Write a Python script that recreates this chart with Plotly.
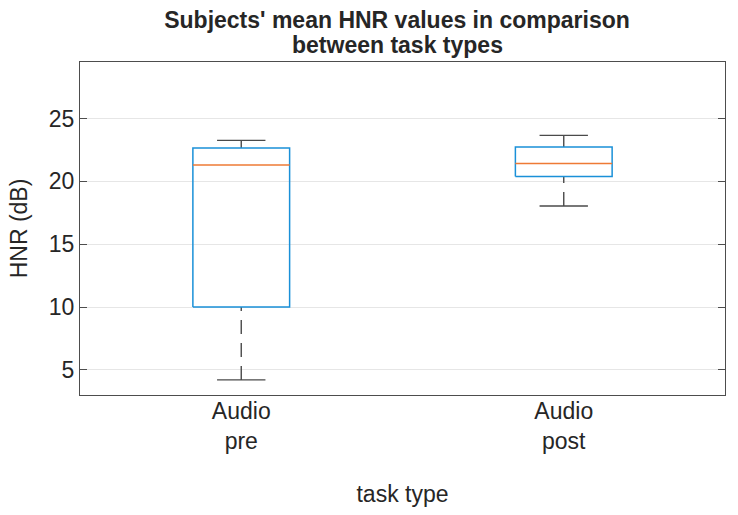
import plotly.graph_objects as go

categories = ["Audio<br>pre", "Audio<br>post"]
positions = [1, 2]
lower_whisker = [4.2, 18.04]
q1 = [10.0, 20.38]
median = [21.3, 21.42]
q3 = [22.65, 22.74]
upper_whisker = [23.26, 23.66]
y_ticks = [5, 10, 15, 20, 25]
title_lines = ["Subjects' mean HNR values in comparison", "between task types"]

BOX_HALF = 0.15
CAP_HALF = 0.075
FONT = "Liberation Sans, Arial, Helvetica, sans-serif"
BLUE = "#1A90D8"
ORANGE = "#EE7A35"
WHISK = "#4a4a4a"

fig = go.Figure()
for i, x in enumerate(positions):
    fig.add_trace(go.Scatter(x=[x, x], y=[lower_whisker[i], q1[i]], mode="lines",
                             line=dict(color=WHISK, width=1.4, dash="14px,9px"),
                             showlegend=False, hoverinfo="skip"))
    fig.add_trace(go.Scatter(x=[x, x], y=[upper_whisker[i], q3[i]], mode="lines",
                             line=dict(color=WHISK, width=1.4, dash="14px,9px"),
                             showlegend=False, hoverinfo="skip"))
    for v in (lower_whisker[i], upper_whisker[i]):
        fig.add_trace(go.Scatter(x=[x - CAP_HALF, x + CAP_HALF], y=[v, v], mode="lines",
                                 line=dict(color=WHISK, width=1.4),
                                 showlegend=False, hoverinfo="skip"))
    fig.add_trace(go.Scatter(x=[x - BOX_HALF, x + BOX_HALF, x + BOX_HALF, x - BOX_HALF, x - BOX_HALF],
                             y=[q1[i], q1[i], q3[i], q3[i], q1[i]], mode="lines",
                             line=dict(color=BLUE, width=1.5),
                             showlegend=False, hoverinfo="skip"))
    fig.add_trace(go.Scatter(x=[x - BOX_HALF, x + BOX_HALF], y=[median[i], median[i]], mode="lines",
                             line=dict(color=ORANGE, width=1.5),
                             showlegend=False, hoverinfo="skip"))

fig.update_layout(
    width=738, height=515,
    margin=dict(l=80, r=13, t=62, b=120),
    paper_bgcolor="white", plot_bgcolor="white",
    font=dict(family=FONT, size=23, color="#262626"),
    title=dict(text="<b>" + title_lines[0] + "</b>",
               x=397 / 738, xref="container", xanchor="center",
               y=1 - 20 / 515, yref="container", yanchor="middle",
               font=dict(family=FONT, size=23, color="#262626")),
    annotations=[dict(text="<b>" + title_lines[1] + "</b>", showarrow=False,
                      xref="paper", yref="paper", x=(397 - 80) / 645, xanchor="center",
                      y=(395 - 45) / 333, yanchor="middle",
                      font=dict(family=FONT, size=23, color="#262626"))],
)
fig.update_xaxes(range=[0.5, 2.5], tickvals=positions, ticktext=categories,
                 showgrid=False, zeroline=False, showline=True, mirror=True,
                 linecolor="#4d4d4d", linewidth=1.2, ticks="", ticklabelstandoff=-5,
                 title=dict(text="task type", font=dict(size=23), standoff=33))
fig.update_yaxes(range=[3.0, 29.5], tickvals=y_ticks,
                 showgrid=True, gridcolor="#e6e6e6", gridwidth=1, zeroline=False,
                 showline=True, mirror="allticks", linecolor="#4d4d4d", linewidth=1.2,
                 ticks="inside", ticklen=7, tickcolor="#4d4d4d",
                 title=dict(text="HNR (dB)", font=dict(size=23), standoff=14))

fig.write_html("out.html")
